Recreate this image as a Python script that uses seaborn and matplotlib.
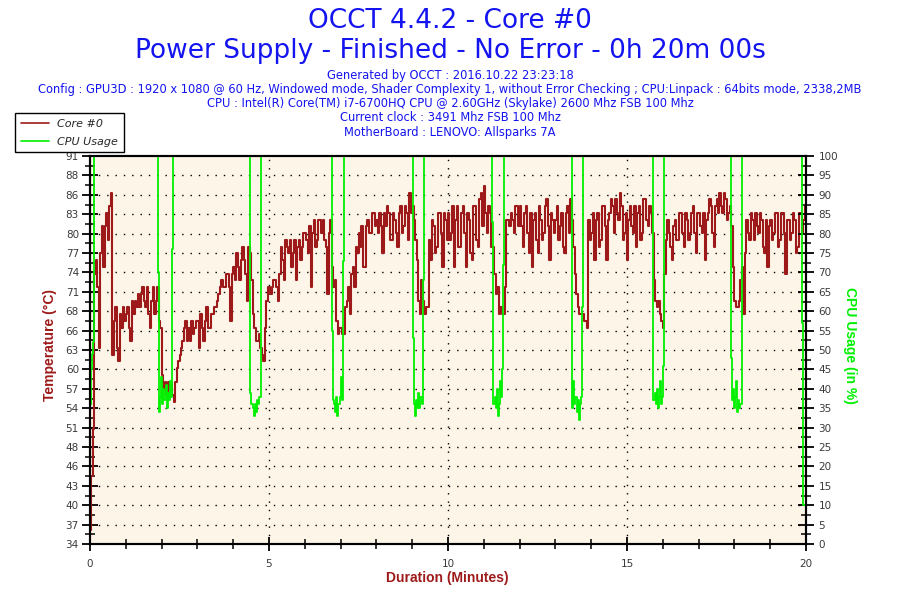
import numpy as np
import pandas as pd
import matplotlib
matplotlib.use("Agg")
import matplotlib.pyplot as plt
from matplotlib.lines import Line2D
from matplotlib.ticker import FixedLocator, MultipleLocator
import seaborn as sns

# ---------------- data ----------------
title_lines = ["OCCT 4.4.2 - Core #0",
               "Power Supply - Finished - No Error - 0h 20m 00s"]
info_lines = ["Generated by OCCT : 2016.10.22 23:23:18",
              "Config : GPU3D : 1920 x 1080 @ 60 Hz, Windowed mode, Shader Complexity 1, without Error Checking ; CPU:Linpack : 64bits mode, 2338,2MB",
              "CPU : Intel(R) Core(TM) i7-6700HQ CPU @ 2.60GHz (Skylake) 2600 Mhz FSB 100 Mhz",
              "Current clock : 3491 Mhz FSB 100 Mhz",
              "MotherBoard : LENOVO: Allsparks 7A"]

series_names = ["Core #0", "CPU Usage"]

# Core #0 temperature, one reading every 2.5 seconds (one row = one minute)
temp_sample_seconds = 2.5
temp_values = [
    36, 44, 51, 74, 76, 72, 63, 77, 81, 75, 81, 83, 79, 84, 86, 62, 67, 69, 63, 61, 68, 66, 69, 67,
    68, 69, 66, 64, 70, 68, 70, 69, 71, 69, 71, 72, 70, 69, 72, 68, 66, 70, 72, 68, 70, 72, 67, 66,
    59, 57, 58, 56, 58, 57, 58, 56, 55, 58, 60, 61, 62, 63, 64, 66, 67, 64, 66, 64, 67, 65, 66, 67,
    67, 63, 68, 66, 64, 67, 69, 66, 66, 68, 68, 69, 69, 70, 71, 72, 73, 72, 72, 74, 74, 72, 67, 74,
    75, 73, 77, 75, 73, 76, 78, 76, 74, 70, 78, 77, 73, 68, 66, 64, 64, 65, 63, 62, 61, 66, 70, 72,
    72, 71, 72, 73, 73, 72, 70, 74, 78, 76, 73, 79, 78, 77, 79, 75, 77, 79, 73, 78, 79, 76, 78, 80,
    80, 79, 77, 81, 72, 80, 82, 78, 79, 82, 82, 80, 82, 79, 78, 71, 80, 82, 75, 72, 73, 67, 65, 66,
    66, 65, 65, 69, 70, 72, 68, 74, 75, 72, 78, 77, 80, 78, 81, 75, 75, 81, 82, 80, 80, 83, 83, 81,
    82, 80, 83, 81, 77, 83, 81, 84, 83, 79, 79, 83, 82, 80, 78, 83, 84, 80, 81, 84, 83, 79, 86, 83,
    84, 82, 79, 76, 70, 68, 73, 70, 68, 69, 69, 79, 76, 82, 81, 77, 78, 83, 83, 80, 75, 83, 82, 79,
    83, 79, 80, 84, 75, 82, 84, 78, 78, 83, 84, 80, 75, 83, 82, 77, 76, 84, 84, 79, 78, 85, 86, 81,
    87, 83, 80, 84, 83, 78, 78, 74, 71, 72, 68, 69, 68, 68, 72, 82, 82, 81, 83, 82, 80, 84, 84, 81,
    84, 81, 78, 83, 84, 80, 77, 83, 75, 82, 83, 79, 77, 84, 82, 79, 80, 84, 85, 81, 76, 83, 82, 80,
    82, 84, 79, 81, 83, 78, 77, 83, 84, 80, 85, 82, 78, 74, 71, 69, 68, 68, 68, 67, 67, 66, 82, 79,
    80, 83, 76, 82, 83, 78, 79, 84, 84, 81, 76, 82, 83, 85, 84, 80, 85, 83, 82, 86, 84, 79, 80, 83,
    76, 82, 84, 81, 80, 84, 78, 83, 84, 79, 80, 85, 85, 82, 81, 84, 83, 80, 73, 70, 69, 70, 68, 67,
    66, 74, 79, 82, 80, 78, 76, 81, 82, 79, 79, 83, 83, 80, 78, 83, 82, 79, 80, 83, 84, 80, 77, 83,
    83, 81, 80, 83, 76, 82, 83, 85, 84, 80, 78, 84, 85, 83, 86, 84, 83, 86, 85, 82, 83, 84, 81, 75,
    70, 69, 69, 70, 73, 75, 68, 77, 82, 80, 79, 83, 82, 79, 83, 81, 80, 83, 82, 78, 77, 82, 75, 81,
    82, 79, 80, 83, 83, 78, 79, 83, 83, 80, 74, 82, 82, 79, 80, 83, 82, 77, 78, 83, 83, 80, 82, 84,
    83,
]

# CPU usage (%) change points: minute, value
cpu_minutes = [
    0.00, 0.02, 0.04, 0.06, 0.08, 0.11,
    1.91, 1.93, 1.96, 1.99, 2.02, 2.05, 2.08, 2.11, 2.14, 2.17, 2.20, 2.23, 2.26, 2.29, 2.32,
    4.48, 4.51, 4.54, 4.57, 4.60, 4.63, 4.66, 4.69, 4.72, 4.75, 4.78,
    6.77, 6.79, 6.82, 6.85, 6.88, 6.91, 6.94, 6.97, 7.00, 7.03, 7.06, 7.08, 7.10,
    9.03, 9.05, 9.08, 9.11, 9.14, 9.17, 9.20, 9.23, 9.26, 9.29, 9.31, 9.34,
    11.24, 11.27, 11.30, 11.33, 11.36, 11.39, 11.42, 11.45, 11.48, 11.51, 11.54, 11.57,
    13.45, 13.47, 13.50, 13.53, 13.56, 13.59, 13.62, 13.65, 13.68, 13.71, 13.74, 13.78,
    15.72, 15.74, 15.77, 15.80, 15.83, 15.86, 15.89, 15.92, 15.95, 15.98, 16.00, 16.02,
    17.90, 17.93, 17.96, 17.99, 18.02, 18.05, 18.08, 18.11, 18.14, 18.17, 18.20, 18.22,
    19.90, 19.92, 20.00,
]
cpu_values = [
    38, 36, 45, 49, 52, 100,
    70, 34, 38, 43, 36, 40, 37, 41, 35, 39, 37, 42, 38, 76, 100,
    39, 36, 35, 33, 36, 34, 37, 36, 38, 38, 100,
    55, 37, 36, 34, 38, 33, 36, 38, 43, 37, 40, 73, 100,
    53, 36, 33, 37, 35, 39, 35, 38, 36, 37, 68, 100,
    83, 36, 38, 35, 40, 33, 36, 42, 38, 45, 72, 100,
    98, 35, 42, 36, 38, 34, 37, 32, 36, 38, 61, 100,
    70, 37, 39, 36, 40, 35, 38, 42, 36, 38, 46, 100,
    48, 37, 40, 35, 38, 42, 34, 37, 35, 36, 38, 100,
    57, 10, 10,
]

x_major_ticks = [0, 5, 10, 15, 20]
temp_tick_labels = ["34", "37", "40", "43", "46", "48", "51", "54", "57", "60", "63",
                    "66", "68", "71", "74", "77", "80", "83", "86", "88", "91"]
cpu_tick_values = list(range(0, 101, 5))

# ---------------- styling ----------------
sns.set_style("ticks")
plt.rcParams["font.family"] = ["DejaVu Sans"]

TEMP_MIN, TEMP_MAX = 34.0, 91.4
red = "#9E1A1A"
green = "#00F000"
blue = "#1414F0"
cream = "#FDF6E8"
tick_col = "#3a3a3a"

fig = plt.figure(figsize=(9, 6), dpi=100)
fig.patch.set_facecolor("white")
ax = fig.add_axes([90 / 900, 1 - 544 / 600, 716 / 900, 388 / 600])
ax.set_facecolor(cream)
ax2 = ax.twinx()

temp_df = pd.DataFrame({
    "minute": np.arange(len(temp_values)) * temp_sample_seconds / 60.0,
    "temp": temp_values,
})
cpu_df = pd.DataFrame({"minute": cpu_minutes, "cpu": cpu_values})

sns.lineplot(data=temp_df, x="minute", y="temp", ax=ax, color=red, lw=1.5,
             drawstyle="steps-post", estimator=None, sort=False, legend=False)
sns.lineplot(data=cpu_df, x="minute", y="cpu", ax=ax2, color=green, lw=1.3,
             drawstyle="steps-post", estimator=None, sort=False, legend=False)

ax.set_xlim(0, 20)
ax.set_ylim(TEMP_MIN, TEMP_MAX)
ax2.set_ylim(0, 100)

temp_tick_pos = np.linspace(TEMP_MIN, TEMP_MAX, len(temp_tick_labels))
ax.yaxis.set_major_locator(FixedLocator(temp_tick_pos))
ax.set_yticklabels(temp_tick_labels)
half = (temp_tick_pos[1] - temp_tick_pos[0]) / 2
ax.yaxis.set_minor_locator(FixedLocator(temp_tick_pos[:-1] + half))
ax.xaxis.set_major_locator(FixedLocator(x_major_ticks))
ax.xaxis.set_minor_locator(MultipleLocator(1))
ax2.yaxis.set_major_locator(FixedLocator(cpu_tick_values))
ax2.yaxis.set_minor_locator(FixedLocator([v + 2.5 for v in cpu_tick_values[:-1]]))

for a in (ax, ax2):
    for s in a.spines.values():
        s.set_color("black")
        s.set_linewidth(1.5)
ax.tick_params(axis="both", which="major", direction="inout", length=12, width=1.3,
               color="black", labelsize=7.5, labelcolor=tick_col, pad=2)
ax.tick_params(axis="both", which="minor", direction="inout", length=7, width=1.1, color="black")
ax.tick_params(axis="x", which="major", length=10, pad=6)
ax2.tick_params(axis="y", which="major", direction="inout", length=12, width=1.3,
                color="black", labelsize=7.5, labelcolor=tick_col, pad=3)
ax2.tick_params(axis="y", which="minor", direction="inout", length=7, width=1.1, color="black")

# grid: dotted
ax.grid(False)
ax2.grid(False)
for y in temp_tick_pos[1:-1]:
    ax.axhline(y, color="black", lw=1.0, ls=(0, (1, 5)), zorder=0.5)
for x in x_major_ticks[1:-1]:
    ax.axvline(x, color="black", lw=1.0, ls=(0, (1, 5)), zorder=0.5)

ax.set_xlabel("")
ax.set_ylabel("")
ax2.set_ylabel("")

label_font = dict(fontweight="bold", fontsize=10, family=["Liberation Sans Narrow", "Liberation Sans"])
fig.text(50 / 900, 1 - 345 / 600, "Temperature (°C)", rotation=90, ha="center", va="center",
         color=red, **label_font)
fig.text(850 / 900, 1 - 345 / 600, "CPU Usage (in %)", rotation=270, ha="center", va="center",
         color=green, **label_font)
fig.text(447 / 900, 1 - 578 / 600, "Duration (Minutes)", ha="center", va="center",
         color=red, **label_font)

# titles
fig.text(0.5, 1 - 21 / 600, title_lines[0], ha="center", va="center", fontsize=19, color=blue)
fig.text(0.5, 1 - 51 / 600, title_lines[1], ha="center", va="center", fontsize=19, color=blue)
for i, line in enumerate(info_lines):
    fig.text(0.5, 1 - (75 + 14.3 * i) / 600, line, ha="center", va="center",
             fontsize=8.3, color=blue)

handles = [Line2D([0], [0], color=red, lw=1.2), Line2D([0], [0], color=green, lw=1.2)]
leg = fig.legend(handles, series_names, loc="upper left",
                 bbox_to_anchor=(15 / 900, 1 - 113 / 600), frameon=True, fancybox=False,
                 edgecolor="black", framealpha=1, borderaxespad=0, borderpad=0.5,
                 handlelength=2.6, handletextpad=0.7, labelspacing=0.75,
                 prop=dict(style="italic", size=8))
leg.get_frame().set_linewidth(1.0)

fig.savefig("out.png", dpi=100, facecolor="white")
